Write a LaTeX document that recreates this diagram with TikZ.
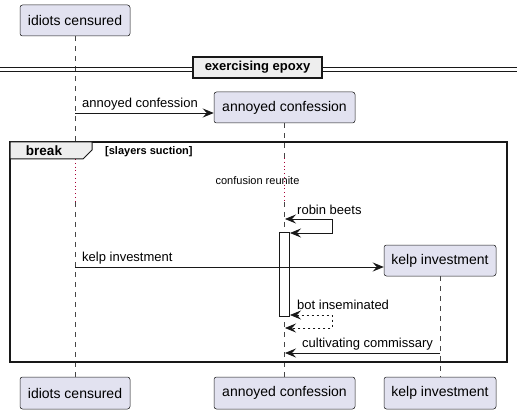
\documentclass[tikz,border=0pt]{standalone}
\usepackage{fontspec}
\setmainfont{Liberation Sans}
\usetikzlibrary{arrows.meta}
\definecolor{pfill}{HTML}{E2E2F0}
\definecolor{pline}{HTML}{181818}
\definecolor{gfill}{HTML}{EEEEEE}
\definecolor{delayred}{HTML}{A80036}
\begin{document}
\begin{tikzpicture}[x=1pt,y=-1pt,
  part/.style={draw=pline, line width=0.5pt, fill=pfill, rounded corners=2.5pt, inner sep=0pt,
    font=\fontsize{14}{16}\selectfont},
  life/.style={draw=pline!80, line width=0.5pt, dash pattern=on 5pt off 5pt},
  delayline/.style={draw=delayred, line width=0.8pt, dash pattern=on 0.8pt off 3pt},
  msg/.style={draw=pline, line width=0.8pt, -{Stealth[length=11pt,width=9pt,inset=4pt]}},
  selfmsg/.style={draw=pline, line width=0.8pt, {Stealth[length=11pt,width=9pt,inset=4pt]}-{Stealth[length=11pt,width=9pt,inset=4pt]}},
  lbl/.style={inner sep=0pt, anchor=west, font=\fontsize{13}{15}\selectfont},
  grouptext/.style={inner sep=0pt, font=\bfseries\fontsize{13.5}{15}\selectfont},
]
\useasboundingbox[fill=white] (0,0) rectangle (522,414);

% participants
\node[part, minimum width=110pt, minimum height=31pt] (idtop) at (75,20.5) {idiots censured};
\node[part, minimum width=110pt, minimum height=32pt] (idbot) at (75,393) {idiots censured};
\node[part, minimum width=141pt, minimum height=31pt] (antop) at (284.5,107.5) {annoyed confession};
\node[part, minimum width=141pt, minimum height=32pt] (anbot) at (284.5,393) {annoyed confession};
\node[part, minimum width=112pt, minimum height=31pt] (kltop) at (440,260.5) {kelp investment};
\node[part, minimum width=112pt, minimum height=32pt] (klbot) at (440,393) {kelp investment};

% lifeline coordinates
\coordinate (idd1) at (75,159);
\coordinate (idd2) at (75,202);
\coordinate (and1) at (284.5,158);
\coordinate (and2) at (284.5,202);

% lifelines
\draw[life] (idtop.south) -- (idd1);
\draw[delayline] (idd1) -- (idd2);
\draw[life] (idd2) -- (idbot.north);
\draw[life] (antop.south) -- (and1);
\draw[delayline] (and1) -- (and2);
\draw[life] (and2) -- (anbot.north);
\draw[life] (kltop.south) -- (klbot.north);

% divider
\draw[pline, line width=0.9pt] (0,67) -- (517,67);
\draw[pline, line width=0.9pt] (0,71) -- (517,71);
\node[draw=pline, line width=1.6pt, fill=gfill, minimum width=129pt, minimum height=21pt, inner sep=0pt,
  font=\bfseries\fontsize{13}{15}\selectfont] (div) at (257.5,67.5) {exercising epoxy};

% message 1
\coordinate (m1s) at (75,113);
\draw[msg] (m1s) -- (m1s -| antop.west);
\node[lbl] (m1l) at (82,104.5) {annoyed confession};

% break group
\draw[pline, line width=1.6pt] (10,142) rectangle (507,362);
\draw[pline, line width=1pt, fill=gfill] (10,142) -- (92,142) -- (92,150) -- (83,159) -- (10,159) -- cycle;
\node[grouptext] (brk) at (44,151) {break};
\node[inner sep=0pt, anchor=west, font=\bfseries\fontsize{11}{13}\selectfont] (guard) at (105,152) {[slayers suction]};

% delay text
\node[inner sep=0pt, font=\fontsize{11}{13}\selectfont] (delay) at (257.5,181) {confusion reunite};

% activation
\node[draw=pline, line width=0.8pt, fill=white, minimum width=10pt, minimum height=84pt, inner sep=0pt] (act) at (284,274) {};

% robin beets self message
\coordinate (rb1) at (285,219);
\coordinate (rb2) at (332,219);
\coordinate (rb3) at (332,233);
\coordinate (rb4) at (290,233);
\draw[selfmsg] (rb1) -- (rb2) -- (rb3) -- (rb4);
\node[lbl] (rbl) at (297,210) {robin beets};

% kelp investment
\coordinate (m2s) at (75,267);
\draw[msg] (m2s) -- (m2s -| kltop.west);
\node[lbl] (m2l) at (82,258) {kelp investment};

% bot inseminated self return
\coordinate (bi1) at (290,315);
\coordinate (bi2) at (332,315);
\coordinate (bi3) at (332,328);
\coordinate (bi4) at (285,328);
\draw[selfmsg, dash pattern=on 2.5pt off 2.5pt] (bi1) -- (bi2) -- (bi3) -- (bi4);
\node[lbl] (bil) at (297,305) {bot inseminated};

% cultivating commissary
\coordinate (m3s) at (440,353);
\coordinate (m3e) at (285,353);
\draw[msg] (m3s) -- (m3e);
\node[lbl] (m3l) at (302,344) {cultivating commissary};
\end{tikzpicture}
\end{document}
